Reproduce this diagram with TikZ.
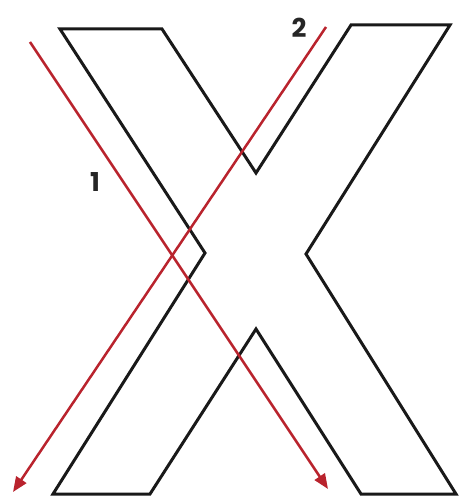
\documentclass[tikz,border=0pt]{standalone}
\usepackage{fontspec}
\setmainfont{Poppins}
\usetikzlibrary{arrows.meta}
\definecolor{arrowred}{RGB}{185,35,45}
\tikzset{
  outline/.style={draw=black!90, line width=3pt, line join=miter},
  ray/.style={draw=arrowred, line width=2.5pt, -{Triangle[length=15pt,width=12pt]}},
  lbl/.style={font=\fontsize{26}{26}\selectfont\bfseries, text=black!85, inner sep=0pt}
}
\begin{document}
\begin{tikzpicture}[x=1pt,y=-1pt]
\useasboundingbox (0,0) rectangle (459,497);
% X outline
\draw[outline] (60,29) -- (162,29) -- (256,173) -- (351,25) -- (450,25)
  -- (306,254) -- (456,494) -- (361,494) -- (256,329) -- (150,494)
  -- (53,494) -- (205,253) -- cycle;
% rays
\coordinate (s1) at (30,42);
\coordinate (e1) at (328,489);
\coordinate (s2) at (326,27);
\coordinate (e2) at (13,492);
\draw[ray] (s1) -- (e1);
\draw[ray] (s2) -- (e2);
% labels
\node[lbl] (l1) at (95,182) {1};
\node[lbl] (l2) at (299,28) {2};
\end{tikzpicture}
\end{document}
